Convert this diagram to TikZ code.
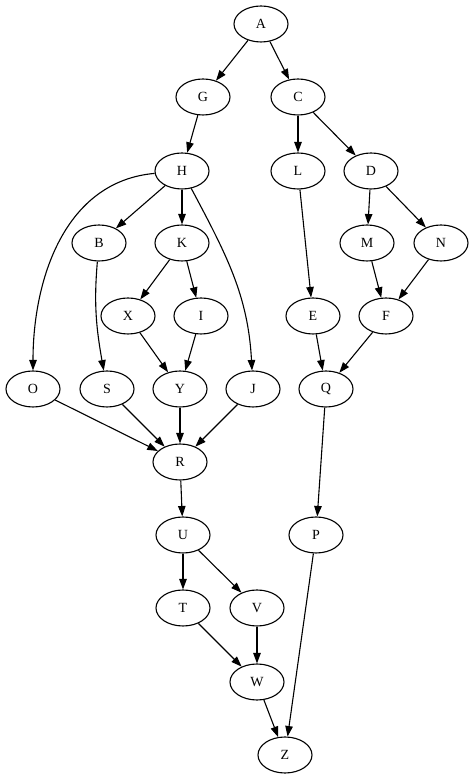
\documentclass[tikz,border=0pt]{standalone}
\usepackage{fontspec}
\setmainfont{Liberation Serif}
\usetikzlibrary{shapes.geometric,arrows.meta}
\begin{document}
\begin{tikzpicture}[x=1pt,y=1pt,>={Triangle[length=10.5pt,width=7.5pt]}]
	\tikzstyle{letter_node} = [ellipse, draw, line width=1.1pt, minimum width=54pt, minimum height=36pt, inner sep=0pt, font=\fontsize{14}{16}\selectfont]
	\tikzstyle{edge} = [->, line width=1.1pt]
	\useasboundingbox (0,0) rectangle (474,780);

	% Top of the graph
	\node (A) [letter_node] at (261,756) {A};
	\node (G) [letter_node] at (203,683) {G};
	\node (C) [letter_node] at (298,683) {C};
	\node (H) [letter_node] at (182,609) {H};
	\node (L) [letter_node] at (298,609) {L};
	\node (D) [letter_node] at (371,609) {D};
	\node (B) [letter_node] at (99,537) {B};
	\node (K) [letter_node] at (182,537) {K};
	\node (M) [letter_node] at (367,537) {M};
	\node (N) [letter_node] at (441,537) {N};
	\node (X) [letter_node] at (128,464) {X};
	\node (I) [letter_node] at (201,464) {I};
	\node (E) [letter_node] at (313,464) {E};
	\node (F) [letter_node] at (386,464) {F};
	% Middle row
	\node (O) [letter_node] at (33,391) {O};
	\node (S) [letter_node] at (107,391) {S};
	\node (Y) [letter_node] at (180,391) {Y};
	\node (J) [letter_node] at (253,391) {J};
	\node (Q) [letter_node] at (326,391) {Q};
	\node (R) [letter_node] at (180,318) {R};
	% Bottom of the graph
	\node (U) [letter_node] at (183,245) {U};
	\node (P) [letter_node] at (316,245) {P};
	\node (T) [letter_node] at (183,172) {T};
	\node (V) [letter_node] at (257,172) {V};
	\node (W) [letter_node] at (257,98) {W};
	\node (Z) [letter_node] at (285,25) {Z};

	% Edges
	\draw[edge] (A) -- (G);
	\draw[edge] (A) -- (C);
	\draw[edge] (G) -- (H);
	\draw[edge] (C) -- (L);
	\draw[edge] (C) -- (D);
	\draw[edge] (H) -- (B);
	\draw[edge] (H) -- (K);
	\draw[edge] (H) to[out=185,in=90] (O);
	\draw[edge] (H) to[out=-62,in=93] (J);
	\draw[edge] (D) -- (M);
	\draw[edge] (D) -- (N);
	\draw[edge] (K) -- (X);
	\draw[edge] (K) -- (I);
	\draw[edge] (L) -- (E);
	\draw[edge] (M) -- (F);
	\draw[edge] (N) -- (F);
	\draw[edge] (B) to[out=-95,in=100] (S);
	\draw[edge] (X) -- (Y);
	\draw[edge] (I) -- (Y);
	\draw[edge] (E) -- (Q);
	\draw[edge] (F) -- (Q);
	\draw[edge] (O) -- (R);
	\draw[edge] (S) -- (R);
	\draw[edge] (Y) -- (R);
	\draw[edge] (J) -- (R);
	\draw[edge] (R) -- (U);
	\draw[edge] (Q) -- (P);
	\draw[edge] (U) -- (T);
	\draw[edge] (U) -- (V);
	\draw[edge] (P) -- (Z);
	\draw[edge] (T) -- (W);
	\draw[edge] (V) -- (W);
	\draw[edge] (W) -- (Z);
\end{tikzpicture}
\end{document}
